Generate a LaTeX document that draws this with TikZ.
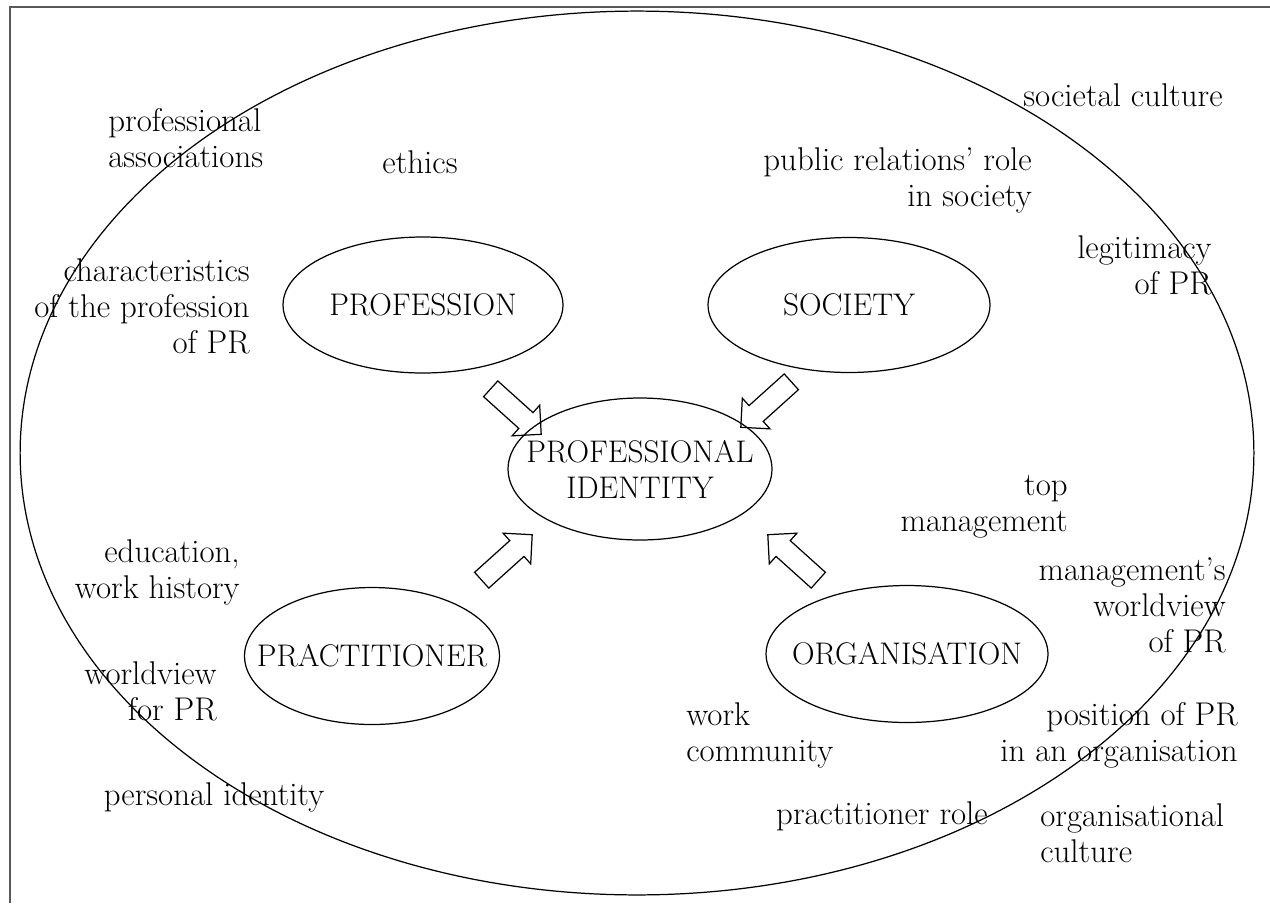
\documentclass[tikz,border=0pt]{standalone}
\usepackage{tikz}
\usetikzlibrary{shapes.geometric}
\usetikzlibrary{shapes.arrows}
\definecolor{framegray}{rgb}{0.35,0.35,0.35}

\begin{document}
\begin{tikzpicture}[x=0.02cm,y=-0.02cm,
    font=\fontsize{18.7}{20.5}\selectfont,
    factor/.style={draw,ellipse,line width=0.7pt,inner sep=0pt},
    remark/.style={inner sep=0pt},
    factortext/.style={inner sep=0pt,font=\fontsize{17.8}{20.5}\selectfont},
    blockarrow/.style={draw,single arrow,line width=0.7pt,inner sep=0.2cm,
        minimum height=1.36cm,single arrow head extend=0.2cm}]
    \useasboundingbox (0,0) rectangle (1270,903);

    % frame
    \draw[color=framegray,line width=1.1pt] (10,903) -- (10,7) -- (1270,7);

    % outer ellipse
    \draw[line width=0.7pt] (637,453) ellipse [x radius=12.34cm, y radius=8.84cm];

    % draw the four factors and the centre
    \node[factor,minimum width=5.6cm,minimum height=2.72cm] (profession) at (423,305) {};
    \node[factor,minimum width=5.64cm,minimum height=2.7cm] (society) at (849,305) {};
    \node[factor,minimum width=5.28cm,minimum height=2.84cm] (identity) at (640,469) {};
    \node[factor,minimum width=5.1cm,minimum height=2.74cm] (practitioner) at (372,656) {};
    \node[factor,minimum width=5.64cm,minimum height=2.74cm] (organisation) at (907,654) {};

    \node[factortext] (professiontxt) at (profession) {PROFESSION};
    \node[factortext] (societytxt) at (society) {SOCIETY};
    \node[factortext,align=center] (identitytxt) at (identity) {PROFESSIONAL\\IDENTITY};
    \node[factortext] (practitionertxt) at (practitioner) {PRACTITIONER};
    \node[factortext] (organisationtxt) at (organisation) {ORGANISATION};

    % draw arrows
    \node[blockarrow,rotate=-42] (arrprofession) at (512,408) {};
    \node[blockarrow,rotate=-138] (arrsociety) at (770,401) {};
    \node[blockarrow,rotate=42] (arrpractitioner) at (503,561) {};
    \node[blockarrow,rotate=138] (arrorganisation) at (797,561) {};

    % draw the surrounding labels
    \node[remark] (societal) at (1123,95) {societal culture};
    \node[remark,anchor=west,align=left] (associations) at (108,138) {professional\\associations};
    \node[remark] (ethics) at (420,162) {ethics};
    \node[remark,anchor=east,align=right] (prrole) at (1032,180) {public relations' role\\in society};
    \node[remark,anchor=east,align=right] (legitimacy) at (1212,265) {legitimacy\\of PR};
    \node[remark,anchor=east,align=right] (characteristics) at (250,306) {characteristics\\of the profession\\of PR};
    \node[remark,anchor=east,align=right] (topmgmt) at (1068,507) {top\\management};
    \node[remark,anchor=east,align=right] (education) at (240,572) {education,\\work history};
    \node[remark,anchor=east,align=right] (mgmtview) at (1226,605) {management's\\worldview\\of PR};
    \node[remark,anchor=east,align=right] (worldview) at (217,691) {worldview\\for PR};
    \node[remark,anchor=west,align=left] (community) at (686,735) {work\\community};
    \node[remark,anchor=east,align=right] (position) at (1238,735) {position of PR\\in an organisation};
    \node[remark] (personal) at (214,797) {personal identity};
    \node[remark] (practrole) at (882,816) {practitioner role};
    \node[remark,anchor=west,align=left] (orgculture) at (1040,833) {organisational\\culture};
\end{tikzpicture}
\end{document}
